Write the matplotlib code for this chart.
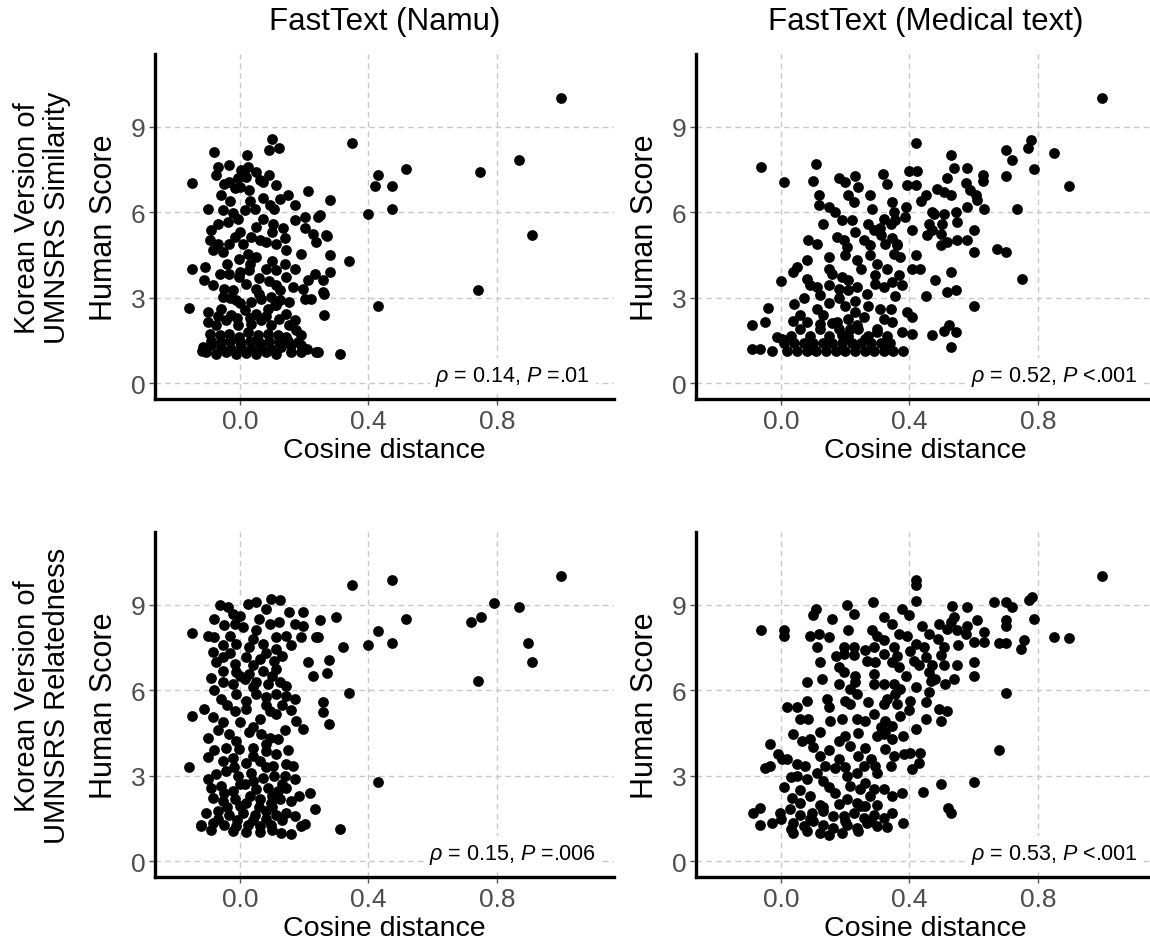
import numpy as np
import matplotlib
matplotlib.use("Agg")
import matplotlib.pyplot as plt

plt.rcParams['font.family'] = ['Liberation Sans', 'DejaVu Sans']
plt.rcParams['mathtext.fontset'] = 'custom'
plt.rcParams['mathtext.rm'] = 'Liberation Sans'
plt.rcParams['mathtext.it'] = 'Liberation Sans:italic'

# ---- data (cosine distance, human score) ----
namu_sim = [
    (1.0, 10.0), (0.349, 8.43), (0.868, 7.84), (0.518, 7.50), (0.748, 7.42), (0.43, 7.29),
    (0.42, 6.92), (0.472, 6.92), (0.28, 6.42), (0.212, 6.75), (0.40, 5.93), (0.472, 6.10),
    (0.909, 5.19), (0.34, 4.28), (0.28, 4.49), (0.74, 3.26), (0.43, 2.71), (0.31, 1.03),
    (0.242, 1.11), (-0.159, 2.65), (-0.15, 7.01), (-0.15, 4.02), (-0.08, 8.1), (0.021, 8.0),
    (0.101, 8.56), (0.09, 8.17), (0.12, 8.27), (-0.10, 6.10), (-0.11, 4.08), (0.28, 3.9),
    (0.26, 3.14), (0.26, 2.40), (0.25, 5.92), (0.27, 5.17), (0.11, 2.73),
    (-0.069, 7.6), (-0.033, 7.66), (-0.075, 7.3), (0.003, 7.48), (0.024, 7.6), (0.05, 7.42),
    (-0.033, 7.07), (-0.007, 7.19), (0.019, 7.25), (0.061, 7.13), (-0.059, 6.6), (-0.017, 6.84),
    (0.029, 6.78), (0.071, 7.07), (0.113, 6.95), (0.149, 6.6), (0.17, 6.25), (0.123, 6.48),
    (0.092, 6.25), (0.107, 6.13), (-0.054, 6.07), (-0.023, 5.96), (0.014, 6.07), (0.045, 6.13),
    (0.201, 5.84), (0.243, 5.84), (0.17, 5.72), (0.071, 5.78), (0.102, 5.6), (0.133, 5.43),
    (-0.09, 5.37), (-0.069, 5.6), (-0.038, 5.66), (-0.007, 5.78), (0.227, 5.25), (0.269, 5.19),
    (0.237, 4.96), (0.201, 5.43), (-0.095, 5.02), (-0.085, 4.67), (-0.054, 4.61), (-0.033, 4.9),
    (-0.017, 5.14), (0.009, 4.9), (0.035, 5.14), (0.061, 5.02), (0.081, 4.96), (0.113, 4.9),
    (0.144, 4.67), (0.191, 4.55), (0.024, 4.55), (-0.002, 4.37), (0.05, 4.43), (-0.064, 3.85),
    (-0.033, 3.85), (-0.002, 3.73), (0.029, 3.97), (0.081, 4.02), (0.113, 3.97), (0.144, 3.73),
    (0.232, 3.85), (0.211, 3.61), (0.258, 3.61), (-0.111, 3.61), (-0.085, 3.44), (-0.049, 3.32),
    (-0.023, 3.26), (0.019, 3.5), (0.05, 3.32), (0.113, 3.44), (0.123, 3.26), (0.165, 3.38),
    (0.196, 3.32), (0.258, 3.2), (-0.054, 3.03), (-0.012, 2.91), (0.035, 2.85), (0.066, 2.97),
    (0.097, 3.03), (0.123, 2.91), (0.154, 2.85), (0.201, 2.97), (0.222, 2.97), (-0.059, 2.62),
    (-0.028, 2.38), (0.014, 2.56), (0.05, 2.44), (0.087, 2.62), (0.113, 2.73), (0.144, 2.44),
    (0.17, 2.21), (-0.101, 2.15), (-0.075, 2.03), (-0.043, 2.21), (-0.007, 2.03), (0.035, 2.09),
    (0.066, 2.21), (0.097, 2.03), (0.154, 2.03), (0.175, 1.86), (-0.095, 1.74), (-0.064, 1.68),
    (-0.033, 1.74), (-0.002, 1.62), (0.024, 1.8), (0.055, 1.68), (0.087, 1.74), (0.118, 1.68),
    (0.144, 1.62), (0.191, 1.68), (-0.116, 1.27), (-0.09, 1.33), (-0.059, 1.27), (-0.028, 1.21),
    (0.003, 1.27), (0.035, 1.21), (0.066, 1.27), (0.097, 1.21), (0.128, 1.27), (0.159, 1.33),
    (0.191, 1.33), (-0.106, 1.09), (-0.075, 1.03), (-0.043, 1.09), (-0.012, 1.03), (0.019, 1.06),
    (0.05, 1.03), (0.081, 1.09), (0.113, 1.03), (0.237, 1.09),
    (-0.09, 1.5), (-0.06, 1.45), (-0.03, 1.5), (0.0, 1.45), (0.03, 1.5), (0.06, 1.45),
    (0.09, 1.5), (0.12, 1.45), (0.15, 1.5), (0.18, 1.45), (-0.12, 1.15), (0.16, 1.1),
    (0.19, 1.1), (0.21, 1.2), (-0.07, 2.35), (-0.01, 2.3), (0.03, 2.3), (0.08, 2.35),
    (0.12, 2.25), (-0.1, 2.5), (0.0, 2.8), (-0.03, 3.0), (0.06, 3.15), (0.09, 3.6),
    (0.0, 3.9), (0.06, 3.7), (0.03, 4.2), (-0.04, 4.2), (0.1, 4.3), (0.14, 4.2),
    (0.17, 4.0), (-0.07, 4.9), (0.0, 5.3), (0.05, 5.5), (0.1, 5.3), (0.14, 5.1),
    (0.03, 6.4), (0.07, 6.5), (-0.03, 6.4), (0.0, 6.9), (0.09, 7.3), (-0.05, 7.0),
]

med_sim = [
    (1.0, 10.02), (0.419, 8.43), (0.778, 8.53), (0.768, 8.26), (0.70, 8.18), (0.851, 8.09),
    (0.721, 7.83), (0.788, 7.51), (0.70, 7.28), (0.898, 6.93), (0.736, 6.1), (0.528, 8.01),
    (0.538, 7.54), (0.58, 7.54), (0.63, 7.3), (0.63, 7.09), (0.518, 7.19), (0.486, 6.83),
    (0.507, 6.72), (0.528, 6.6), (0.575, 7.01), (0.59, 6.78), (0.606, 6.6), (0.611, 6.42),
    (0.58, 6.19), (0.632, 6.1), (0.436, 6.4), (0.40, 7.45), (0.424, 7.45), (0.393, 6.95),
    (0.419, 6.95), (0.318, 7.34), (0.109, 7.68), (-0.061, 7.6), (0.009, 7.07), (0.101, 7.09),
    (0.2, 7.07), (0.231, 7.28), (0.117, 6.6), (0.117, 6.25), (0.21, 6.6), (0.226, 6.37),
    (0.278, 6.6), (0.283, 6.13), (0.346, 6.37), (0.351, 6.01), (0.148, 6.19), (0.169, 6.01),
    (0.19, 5.72), (0.221, 5.72), (0.132, 5.6), (0.387, 5.84), (0.476, 5.95), (0.507, 5.95),
    (0.544, 6.01), (0.549, 5.66), (0.32, 5.78), (0.341, 5.6), (0.356, 5.72), (0.288, 5.37),
    (0.309, 5.43), (0.408, 5.37), (0.46, 5.6), (0.471, 5.37), (0.455, 5.19), (0.497, 5.25),
    (0.601, 5.37), (0.58, 5.02), (0.549, 5.02), (0.518, 4.96), (0.497, 4.84), (0.601, 4.61),
    (0.674, 4.7), (0.70, 4.61), (0.752, 3.67), (0.085, 5.02), (0.111, 4.9), (0.174, 5.13),
    (0.195, 5.02), (0.205, 4.78), (0.257, 5.02), (0.278, 4.84), (0.325, 4.9), (0.346, 5.08),
    (0.361, 4.84), (0.148, 4.43), (0.2, 4.49), (0.236, 4.31), (0.278, 4.49), (0.351, 4.55),
    (0.372, 4.43), (0.08, 4.31), (0.049, 4.08), (0.038, 3.9), (-0.001, 3.59), (0.08, 3.67),
    (0.09, 3.44), (0.111, 3.38), (0.158, 3.85), (0.19, 3.73), (0.21, 3.61), (0.148, 3.44),
    (0.179, 3.32), (0.21, 3.26), (0.236, 3.38), (0.268, 3.14), (0.294, 3.79), (0.294, 3.5),
    (0.32, 3.38), (0.346, 3.55), (0.367, 3.79), (0.377, 3.44), (0.356, 3.08), (0.408, 4.02),
    (0.434, 4.02), (0.481, 3.61), (0.528, 3.9), (0.45, 3.08), (0.518, 3.2), (0.544, 3.26),
    (0.601, 2.71), (0.04, 2.79), (-0.04, 2.65), (-0.05, 2.15), (-0.092, 2.03), (0.038, 2.2),
    (0.059, 2.38), (0.08, 2.15), (0.111, 2.61), (0.132, 2.38), (0.122, 2.09), (0.174, 2.15),
    (0.21, 2.26), (0.231, 2.5), (0.257, 2.32), (0.236, 2.03), (0.215, 1.91), (0.309, 2.61),
    (0.341, 2.61), (0.32, 2.26), (0.346, 2.15), (0.393, 2.5), (0.408, 2.32), (0.377, 1.79),
    (0.408, 1.74), (0.471, 1.68), (0.507, 1.85), (0.523, 2.03), (0.544, 1.79), (0.53, 1.27),
    (-0.092, 1.21), (-0.066, 1.21), (-0.029, 1.15), (-0.014, 1.62), (0.002, 1.56),
    (0.02, 1.15), (0.05, 1.15), (0.08, 1.15), (0.11, 1.15), (0.14, 1.15), (0.17, 1.15),
    (0.2, 1.15), (0.23, 1.15), (0.26, 1.15), (0.29, 1.15), (0.32, 1.15), (0.35, 1.15),
    (0.38, 1.15), (0.01, 1.4), (0.04, 1.4), (0.07, 1.4), (0.1, 1.4), (0.13, 1.4),
    (0.16, 1.4), (0.19, 1.4), (0.22, 1.4), (0.25, 1.4), (0.28, 1.4), (0.31, 1.4),
    (0.34, 1.4), (0.03, 1.65), (0.09, 1.65), (0.15, 1.65), (0.21, 1.65), (0.27, 1.65),
    (0.33, 1.65), (0.06, 1.9), (0.12, 1.9), (0.18, 1.9), (0.24, 1.9), (0.3, 1.9),
    (0.15, 2.8), (0.2, 2.7), (0.23, 2.9), (0.27, 2.7), (0.18, 3.0), (0.25, 4.0),
    (0.3, 4.2), (0.33, 4.0), (0.36, 4.9), (0.31, 5.2), (0.23, 5.3), (0.27, 5.6),
    (0.39, 6.2), (0.15, 4.0), (0.12, 3.1), (0.07, 3.0), (0.45, 6.6), (0.5, 5.6),
    (0.42, 4.5), (0.47, 6.0), (0.24, 6.9), (0.18, 7.2), (0.33, 7.0), (0.16, 2.1),
    (0.19, 1.7), (0.26, 1.55), (0.3, 1.8),
]

namu_rel = [
    (1.0, 10.01), (0.349, 9.68), (0.472, 9.85), (0.79, 9.07), (0.868, 8.92), (0.75, 8.58),
    (0.718, 8.41), (0.518, 8.51), (0.43, 8.09), (0.472, 7.65), (0.40, 7.57), (0.32, 7.51),
    (0.896, 7.66), (0.909, 6.98), (0.74, 6.31), (0.34, 5.89), (0.43, 2.79), (0.31, 1.14),
    (0.299, 8.57), (0.249, 8.45), (0.242, 7.86), (0.278, 7.06), (0.27, 6.61), (0.211, 6.98),
    (0.226, 6.51), (0.258, 5.6), (0.258, 5.25), (0.278, 4.81), (-0.15, 8.0), (-0.15, 5.08),
    (-0.16, 3.32), (-0.122, 1.23), (0.195, 8.74), (0.197, 8.25), (0.152, 8.74), (0.17, 8.33),
    (-0.064, 8.98), (-0.038, 8.92), (0.024, 9.04), (0.05, 9.1), (0.081, 8.86), (0.097, 9.2),
    (0.123, 9.16), (-0.023, 8.69), (-0.101, 7.92), (-0.08, 7.86), (-0.049, 8.28), (-0.017, 8.33),
    (0.009, 8.22), (0.05, 8.1), (0.092, 8.33), (0.113, 7.86), (0.144, 7.92), (0.191, 7.86),
    (0.237, 7.86), (-0.054, 7.57), (-0.012, 7.63), (0.029, 7.51), (0.071, 7.63), (0.113, 7.45),
    (-0.085, 7.34), (-0.054, 7.16), (-0.017, 6.92), (0.019, 7.16), (0.061, 7.1), (0.107, 7.04),
    (-0.075, 6.98), (-0.054, 6.69), (-0.012, 6.63), (0.029, 6.57), (0.071, 6.69), (0.113, 6.75),
    (-0.09, 6.43), (-0.054, 6.28), (-0.023, 6.22), (0.014, 6.4), (0.05, 6.28), (0.087, 6.22),
    (0.123, 6.28), (0.144, 6.16), (-0.059, 5.69), (-0.012, 5.87), (0.019, 5.63), (0.05, 5.87),
    (0.081, 5.75), (0.113, 5.87), (0.144, 5.81), (0.17, 5.69), (-0.111, 5.34), (-0.085, 5.05),
    (-0.054, 4.87), (-0.017, 5.28), (0.019, 5.34), (0.061, 4.99), (0.092, 5.28), (0.113, 5.16),
    (0.175, 4.93), (0.196, 4.64), (-0.1, 4.34), (-0.033, 4.46), (-0.012, 4.22), (0.029, 4.52),
    (0.066, 4.46), (0.092, 4.34), (0.118, 4.28), (-0.043, 3.99), (-0.002, 3.93), (0.04, 3.99),
    (0.081, 3.87), (0.113, 3.76), (-0.1, 3.67), (-0.054, 3.52), (-0.023, 3.64), (0.019, 3.46),
    (0.061, 3.52), (0.102, 3.34), (0.144, 3.4), (0.165, 3.34), (-0.075, 3.05), (-0.043, 3.17),
    (-0.007, 2.99), (0.035, 3.11), (0.071, 2.93), (0.107, 2.99), (0.139, 2.99), (0.144, 2.58),
    (-0.09, 2.58), (-0.059, 2.64), (-0.023, 2.47), (0.014, 2.7), (0.05, 2.52), (0.087, 2.58),
    (0.118, 2.47), (0.185, 2.29), (0.217, 2.41), (-0.085, 2.23), (-0.054, 2.11), (-0.017, 2.17),
    (0.019, 2.06), (0.061, 2.17), (0.097, 2.06), (0.123, 2.17), (0.232, 1.82), (-0.106, 1.7),
    (-0.069, 1.76), (-0.033, 1.64), (0.009, 1.7), (0.045, 1.64), (0.081, 1.76), (0.113, 1.64),
    (0.144, 1.7), (0.201, 1.31), (-0.121, 1.29), (-0.085, 1.35), (-0.049, 1.29), (-0.012, 1.23),
    (0.024, 1.29), (0.061, 1.23), (0.097, 1.29), (-0.023, 1.05), (0.019, 1.03), (0.061, 1.03),
    (0.128, 0.99), (0.159, 0.96),
    (0.0, 8.6), (0.06, 8.5), (-0.08, 8.5), (0.12, 8.4), (0.04, 7.8), (-0.03, 7.9),
    (0.08, 7.3), (-0.03, 7.3), (0.13, 7.2), (0.16, 7.6), (0.04, 6.9), (0.0, 6.5),
    (0.1, 6.5), (-0.08, 6.0), (0.04, 6.1), (0.08, 5.5), (-0.04, 5.5), (0.0, 4.9),
    (0.13, 5.5), (0.16, 5.3), (-0.07, 4.6), (0.04, 4.7), (0.14, 4.6), (-0.08, 3.9),
    (0.08, 4.1), (0.15, 3.9), (-0.02, 3.3), (0.04, 3.7), (0.08, 3.3), (-0.1, 2.9),
    (0.0, 2.7), (0.04, 2.8), (0.13, 2.7), (0.17, 2.9), (-0.05, 2.4), (0.03, 2.3),
    (0.1, 2.3), (0.16, 2.1), (-0.04, 1.9), (0.0, 1.95), (0.06, 1.9), (0.1, 1.9),
    (0.17, 1.6), (-0.07, 1.5), (-0.01, 1.45), (0.04, 1.45), (0.08, 1.5), (0.13, 1.45),
    (0.19, 1.25), (-0.09, 1.1), (0.1, 1.1),
]

med_rel = [
    (1.0, 10.01), (0.421, 9.86), (0.421, 9.68), (0.421, 9.12), (0.286, 9.1), (0.205, 9.0),
    (0.226, 8.68), (0.109, 8.86), (0.101, 8.63), (0.158, 8.49), (0.09, 7.92), (0.117, 7.98),
    (0.148, 7.86), (0.111, 7.53), (-0.061, 8.1), (0.009, 8.1), (0.009, 7.92), (0.21, 8.1),
    (0.283, 8.1), (0.32, 8.57), (0.346, 8.33), (0.367, 7.98), (0.393, 7.92), (0.377, 8.86),
    (0.398, 8.63), (0.533, 8.95), (0.58, 8.92), (0.538, 8.57), (0.528, 8.39), (0.492, 8.33),
    (0.518, 8.16), (0.44, 8.27), (0.46, 7.98), (0.549, 8.1), (0.58, 8.27), (0.611, 8.45),
    (0.575, 7.98), (0.632, 8.04), (0.632, 7.69), (0.663, 9.1), (0.7, 9.1), (0.721, 8.92),
    (0.773, 9.15), (0.783, 9.27), (0.788, 8.51), (0.7, 8.45), (0.7, 8.25), (0.679, 7.66),
    (0.7, 7.66), (0.757, 7.75), (0.747, 7.45), (0.851, 7.86), (0.898, 7.83), (0.7, 5.9),
    (0.679, 3.91), (0.601, 2.78), (0.497, 2.7), (0.442, 2.43), (0.52, 1.88), (0.53, 1.68),
    (0.379, 1.33), (0.408, 3.23), (0.434, 3.81), (0.429, 3.46), (0.403, 7.39), (0.419, 7.63),
    (0.445, 7.51), (0.45, 7.16), (0.471, 6.87), (0.497, 7.22), (0.507, 7.51), (0.507, 6.87),
    (0.46, 6.63), (0.466, 6.34), (0.46, 5.93), (0.512, 6.22), (0.549, 6.87), (0.601, 6.98),
    (0.601, 6.51), (0.538, 6.4), (0.413, 7.04), (0.429, 6.87), (0.346, 6.98), (0.367, 6.81),
    (0.268, 7.04), (0.294, 6.98), (0.32, 7.28), (0.288, 7.51), (0.32, 7.75), (0.351, 7.51),
    (0.195, 7.51), (0.226, 7.51), (0.195, 7.28), (0.226, 7.22), (0.179, 6.81), (0.195, 6.63),
    (0.231, 6.51), (0.288, 6.57), (0.08, 6.28), (0.127, 6.4), (0.179, 6.22), (0.215, 6.04),
    (0.288, 6.22), (0.32, 6.22), (0.351, 6.22), (0.372, 6.04), (0.403, 5.63), (0.356, 5.87),
    (0.361, 5.52), (0.372, 5.11), (0.32, 5.52), (0.236, 5.87), (0.215, 5.52), (0.2, 5.64),
    (0.143, 5.69), (0.148, 5.4), (0.08, 5.64), (0.018, 5.4), (0.049, 5.4), (0.085, 4.99),
    (0.153, 4.93), (0.122, 4.52), (0.236, 4.99), (0.262, 4.93), (0.288, 5.16), (0.325, 4.93),
    (0.346, 4.75), (0.325, 4.52), (0.419, 4.64), (0.45, 4.99), (0.492, 5.34), (0.518, 5.28),
    (0.497, 4.93), (0.038, 4.46), (0.064, 4.22), (0.09, 4.28), (-0.034, 4.11), (0.179, 4.22),
    (0.2, 4.4), (0.215, 4.05), (0.262, 3.96), (0.299, 4.4), (0.32, 4.46), (0.346, 4.28),
    (0.325, 3.93), (0.351, 3.7), (0.341, 3.35), (0.382, 3.76), (0.403, 3.81), (-0.008, 3.76),
    (0.018, 3.58), (0.049, 3.4), (0.075, 3.35), (-0.05, 3.29), (-0.034, 3.35), (0.002, 3.58),
    (0.122, 3.7), (0.137, 3.35), (0.169, 3.29), (0.205, 2.99), (0.236, 3.11), (0.257, 3.35),
    (0.294, 3.35), (0.049, 2.99), (0.08, 2.88), (0.111, 3.11), (0.132, 2.82), (0.169, 2.41),
    (0.32, 2.52), (0.346, 2.29), (0.377, 2.41), (0.215, 2.64), (0.247, 2.52), (0.278, 2.29),
    (0.288, 2.52), (0.033, 2.23), (0.059, 2.05), (0.09, 2.29), (0.122, 1.99), (0.205, 2.17),
    (0.236, 2.05), (0.262, 1.94), (0.299, 1.99), (-0.087, 1.7), (-0.066, 1.88), (-0.003, 1.7),
    (0.028, 1.82), (0.059, 1.64), (0.095, 1.7), (0.132, 1.76), (0.163, 1.58), (0.195, 1.58),
    (0.226, 1.7), (0.257, 1.52), (0.288, 1.64), (0.32, 1.52), (0.346, 1.7), (-0.066, 1.29),
    (-0.029, 1.33), (0.038, 1.35), (0.07, 1.23), (0.101, 1.41), (0.132, 1.29), (0.163, 1.17),
    (0.205, 1.29), (0.236, 1.17), (0.268, 1.35), (0.299, 1.23), (0.038, 0.99), (0.08, 1.05),
    (0.122, 0.99), (0.148, 0.93),
    (0.06, 2.5), (0.01, 2.6), (0.03, 2.95), (0.15, 2.6), (0.18, 3.6), (0.24, 3.7),
    (0.28, 3.6), (0.3, 3.1), (0.26, 2.75), (0.2, 3.3), (0.31, 4.7), (0.38, 4.4),
    (0.4, 5.3), (0.33, 5.7), (0.27, 5.6), (0.23, 6.3), (0.26, 7.4), (0.3, 7.9),
    (0.36, 7.2), (0.39, 6.5), (0.42, 6.1), (0.45, 5.6), (0.48, 6.4), (0.55, 7.6),
    (0.6, 7.7), (0.49, 7.8), (0.17, 7.2), (0.12, 7.0), (0.06, 5.0), (0.19, 5.0),
    (0.1, 4.0), (0.15, 3.9), (0.24, 4.5), (0.13, 1.9), (0.18, 2.0), (0.09, 1.5),
    (0.2, 1.4), (0.25, 1.95), (0.28, 1.4), (0.33, 1.2), (0.0, 1.5), (0.03, 1.15),
    (0.19, 1.0), (0.24, 1.05),
]

titles = ['FastText (Namu)', 'FastText (Medical text)']
row_labels = ['Korean Version of\nUMNSRS Similarity', 'Korean Version of\nUMNSRS Relatedness']
stats = [r'$\mathit{\rho}$ = 0.14, $\mathit{P}$ =.01', r'$\mathit{\rho}$ = 0.52, $\mathit{P}$ <.001',
         r'$\mathit{\rho}$ = 0.15, $\mathit{P}$ =.006', r'$\mathit{\rho}$ = 0.53, $\mathit{P}$ <.001']
panels = [namu_sim, med_sim, namu_rel, med_rel]

W, H = 1150, 945
fig = plt.figure(figsize=(W / 100, H / 100), dpi=100)

# panel boxes in pixels: left, top, width, height
lefts = [155, 696]
tops = [55, 533]
pw, ph = 459, 345

grey = '#4d4d4d'
for i, pts in enumerate(panels):
    r, c = divmod(i, 2)
    ax = fig.add_axes([lefts[c] / W, 1 - (tops[r] + ph) / H, pw / W, ph / H])
    pts = np.array(pts)
    ax.scatter(pts[:, 0], pts[:, 1], s=60, color='black', linewidths=0, zorder=3)
    ax.set_xlim(-0.265, 1.165)
    ax.set_ylim(-0.55, 11.55)
    ax.set_xticks([0.0, 0.4, 0.8])
    ax.set_xticklabels(['0.0', '0.4', '0.8'])
    ax.set_yticks([0, 3, 6, 9])
    ax.grid(True, color='#c8c8c8', linestyle=(0, (4, 3)), linewidth=1.0, zorder=0)
    for s in ['top', 'right']:
        ax.spines[s].set_visible(False)
    for s in ['left', 'bottom']:
        ax.spines[s].set_linewidth(2.4)
        ax.spines[s].set_color('black')
    ax.tick_params(axis='both', colors='#555555', length=4, width=1,
                   labelsize=19, labelcolor=grey, pad=3)
    ax.set_xlabel('Cosine distance', fontsize=20.5, labelpad=3)
    ax.set_ylabel('Human Score', fontsize=22, labelpad=8)
    ax.text(0.85, 0.27, stats[i], fontsize=15.5, ha='center', va='center', zorder=4,
            bbox=dict(facecolor='white', edgecolor='none', pad=4))
    if r == 0:
        ax.text(0.5, 1.097, titles[c], transform=ax.transAxes, fontsize=22.5,
                ha='center', va='center')
    if c == 0:
        fig.text(42 / W, 1 - (tops[r] + 163) / H, row_labels[r], rotation=90,
                 fontsize=21, ha='center', va='center', linespacing=1.1)

fig.savefig('out.png', dpi=100)
